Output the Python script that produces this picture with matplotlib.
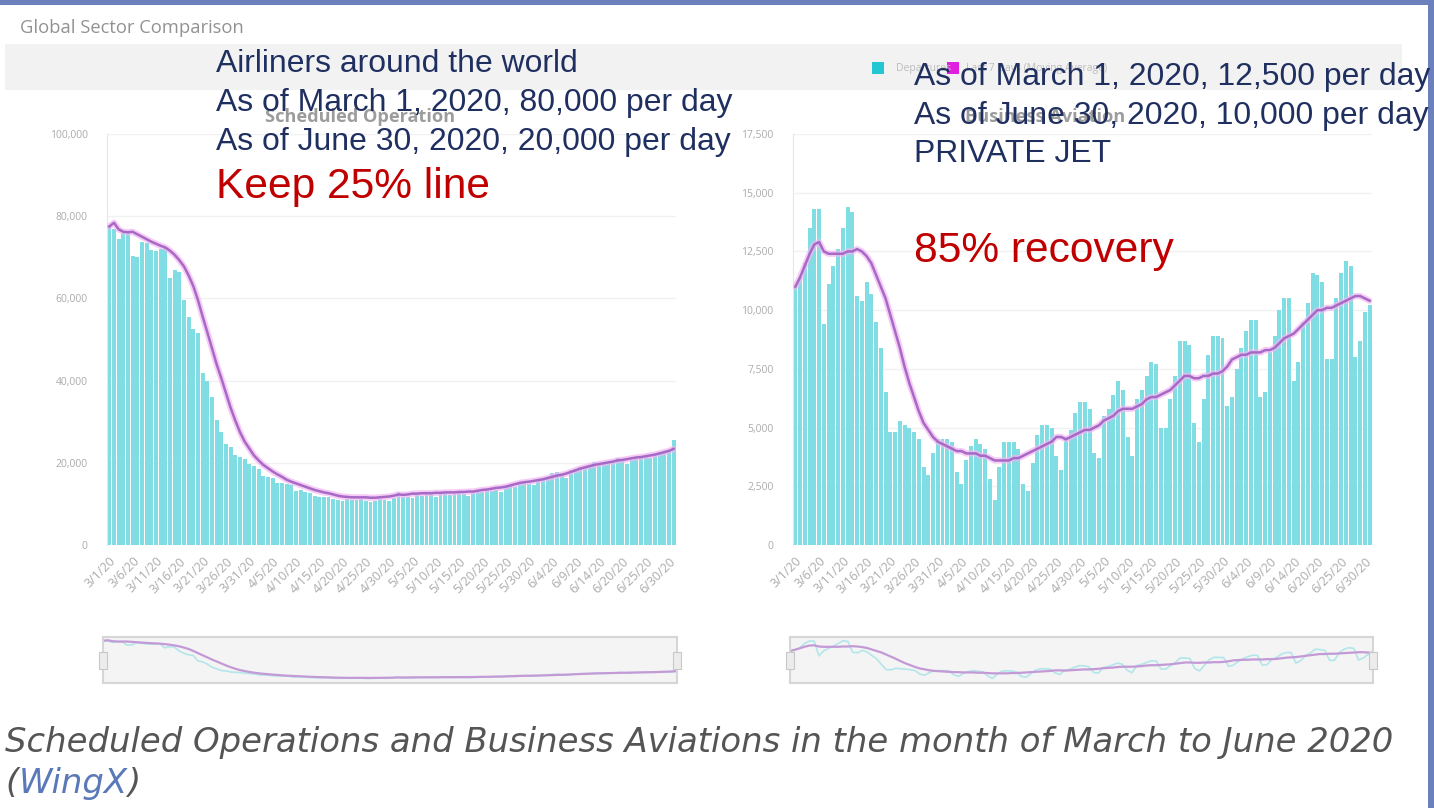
import matplotlib
matplotlib.use("Agg")
import matplotlib.pyplot as plt
from matplotlib.patches import Rectangle
import numpy as np

# values in thousands of flights per day, 3/1/20 .. 6/30/20
sched_k = [
    77.5, 77.0, 74.5, 75.8, 76.0, 70.2, 70.0, 73.8, 73.5, 71.8,
    71.5, 71.9, 72.5, 65.0, 67.0, 66.5, 59.6, 55.5, 52.5, 51.5,
    41.8, 40.0, 36.0, 30.5, 27.5, 24.5, 23.8, 22.0, 21.4, 21.0,
    19.8, 19.2, 18.5, 16.8, 16.5, 16.2, 15.2, 15.0, 14.8, 14.5,
    13.2, 13.5, 13.0, 12.6, 12.0, 11.8, 11.6, 11.8, 11.2, 11.0,
    10.8, 11.2, 11.0, 10.9, 11.3, 10.6, 10.5, 10.8, 11.2, 11.0,
    10.8, 11.4, 12.8, 11.6, 11.8, 11.4, 12.2, 12.0, 12.4, 12.3,
    11.8, 12.4, 12.6, 12.2, 12.5, 12.6, 12.4, 11.9, 12.7, 12.9,
    13.0, 13.2, 13.1, 13.5, 12.9, 14.3, 14.6, 14.0, 15.2, 15.4,
    14.8, 14.6, 15.6, 16.0, 16.6, 17.6, 17.8, 17.0, 16.4, 18.2,
    18.6, 19.0, 18.8, 19.4, 20.2, 19.5, 19.6, 20.0, 20.4, 21.2,
    20.6, 19.6, 20.8, 21.0, 21.4, 21.8, 21.2, 22.0, 22.6, 22.4,
    22.8, 25.5,
]
sched_ma_k = [
    77.5, 78.4, 76.8, 76.2, 76.1, 76.2, 75.6, 75.0, 74.4, 73.8,
    73.3, 72.8, 72.4, 71.6, 70.6, 69.3, 67.8, 65.6, 63.0, 59.6,
    55.6, 51.8, 47.9, 44.0, 40.6, 37.0, 33.4, 30.3, 27.5, 25.2,
    23.5, 21.8, 20.6, 19.5, 18.7, 17.9, 17.2, 16.6, 15.9, 15.4,
    15.0, 14.6, 14.2, 13.8, 13.4, 13.1, 12.8, 12.6, 12.3, 12.0,
    11.8, 11.7, 11.6, 11.6, 11.6, 11.6, 11.5, 11.5, 11.6, 11.7,
    11.8, 12.0, 12.3, 12.2, 12.3, 12.5, 12.5, 12.6, 12.6, 12.6,
    12.7, 12.7, 12.8, 12.8, 12.8, 12.9, 12.9, 13.0, 13.0, 13.2,
    13.4, 13.5, 13.7, 13.9, 14.0, 14.2, 14.5, 14.8, 15.1, 15.3,
    15.4, 15.6, 15.8, 16.0, 16.3, 16.6, 16.9, 17.1, 17.4, 17.8,
    18.2, 18.6, 18.9, 19.2, 19.5, 19.7, 19.9, 20.1, 20.3, 20.6,
    20.7, 20.9, 21.1, 21.3, 21.4, 21.6, 21.8, 22.0, 22.3, 22.6,
    22.9, 23.4,
]
bizav_k = [
    11.0, 11.4, 12.0, 13.5, 14.3, 14.3, 9.4, 11.1, 11.9, 12.6,
    13.5, 14.4, 14.2, 10.6, 10.4, 11.2, 10.7, 9.5, 8.4, 6.5,
    4.8, 4.8, 5.3, 5.1, 5.0, 4.8, 4.5, 3.3, 3.0, 3.9,
    4.5, 4.5, 4.5, 4.4, 3.1, 2.6, 3.6, 4.2, 4.5, 4.3,
    4.1, 2.8, 1.9, 3.3, 4.4, 4.4, 4.4, 4.1, 2.6, 2.3,
    3.5, 4.7, 5.1, 5.1, 5.0, 3.8, 3.2, 4.6, 4.9, 5.6,
    6.1, 6.1, 5.8, 3.9, 3.7, 5.5, 5.8, 6.4, 7.0, 6.6,
    4.6, 3.8, 6.2, 6.6, 7.2, 7.8, 7.7, 5.0, 5.0, 6.2,
    7.2, 8.7, 8.7, 8.5, 5.2, 4.4, 6.2, 8.1, 8.9, 8.9,
    8.8, 5.9, 6.3, 7.5, 8.4, 9.1, 9.6, 9.6, 6.3, 6.5,
    8.2, 8.9, 10.0, 10.5, 10.5, 7.0, 7.8, 9.5, 10.3, 11.6,
    11.5, 11.2, 7.9, 7.9, 10.5, 11.6, 12.1, 11.9, 8.0, 8.7,
    9.9, 10.2,
]
bizav_ma_k = [
    11.0, 11.4, 11.9, 12.4, 12.8, 12.9, 12.5, 12.4, 12.4, 12.4,
    12.4, 12.5, 12.5, 12.6, 12.5, 12.3, 12.0, 11.5, 11.0, 10.5,
    9.8, 9.1, 8.4, 7.6, 6.9, 6.3, 5.7, 5.2, 4.9, 4.6,
    4.4, 4.3, 4.2, 4.1, 4.0, 4.0, 3.9, 3.9, 3.9, 3.8,
    3.8, 3.7, 3.6, 3.6, 3.6, 3.6, 3.7, 3.7, 3.8, 3.9,
    4.0, 4.1, 4.2, 4.3, 4.4, 4.6, 4.6, 4.5, 4.6, 4.7,
    4.8, 4.9, 4.9, 5.0, 5.1, 5.3, 5.4, 5.5, 5.7, 5.8,
    5.8, 5.8, 5.9, 6.0, 6.2, 6.3, 6.3, 6.4, 6.5, 6.6,
    6.8, 7.0, 7.2, 7.2, 7.1, 7.1, 7.2, 7.2, 7.3, 7.3,
    7.4, 7.6, 7.9, 8.0, 8.1, 8.1, 8.2, 8.2, 8.2, 8.3,
    8.3, 8.4, 8.6, 8.8, 8.9, 9.0, 9.2, 9.4, 9.6, 9.8,
    10.0, 10.0, 10.1, 10.1, 10.2, 10.3, 10.4, 10.5, 10.6, 10.6,
    10.5, 10.4,
]

date_labels = [
    '3/1/20', '3/6/20', '3/11/20', '3/16/20', '3/21/20', '3/26/20', '3/31/20',
    '4/5/20', '4/10/20', '4/15/20', '4/20/20', '4/25/20', '4/30/20',
    '5/5/20', '5/10/20', '5/15/20', '5/20/20', '5/25/20', '5/30/20',
    '6/4/20', '6/9/20', '6/14/20', '6/20/20', '6/25/20', '6/30/20',
]

W, H = 1434, 808
fig = plt.figure(figsize=(W / 100, H / 100), dpi=100)
fig.patch.set_facecolor('white')


def box(x0, y0, x1, y1):
    # pixel box (top-left origin) -> figure fraction
    return [x0 / W, 1 - y1 / H, (x1 - x0) / W, (y1 - y0) / H]


def ftext(x, y, s, **kw):
    return fig.text(x / W, 1 - y / H, s, **kw)


def fit(t, width_px):
    r = fig.canvas.get_renderer()
    w = t.get_window_extent(r).width
    t.set_fontsize(t.get_fontsize() * width_px / w)


BAR = '#80dde3'
LINE = '#a66ac6'
HALO = '#f4b6f2'
GRAY = '#ababab'

# frame of the slide
fig.add_artist(Rectangle((0, 1 - 5 / H), 1, 5 / H, transform=fig.transFigure,
                         color='#6b80bd', lw=0, zorder=0))
fig.add_artist(Rectangle((1428 / W, 0), 6 / W, 1, transform=fig.transFigure,
                         color='#6b80bd', lw=0, zorder=0))
# header strip of the dashboard
fig.add_artist(Rectangle((5 / W, 1 - 90 / H), 1397 / W, 46 / H, transform=fig.transFigure,
                         color='#f2f2f2', lw=0, zorder=0))
g = ftext(20, 28, 'Global Sector Comparison', fontsize=11, color='#929292',
          family='Open Sans', va='center')
fit(g, 223)

# legend
fig.add_artist(Rectangle((872 / W, 1 - 74 / H), 12 / W, 12 / H, transform=fig.transFigure,
                         color='#22c7d1', lw=0))
ftext(896, 68, 'Departures', fontsize=7.5, color='#bdbdbd', family='Open Sans', va='center')
fig.add_artist(Rectangle((947 / W, 1 - 74 / H), 12 / W, 12 / H, transform=fig.transFigure,
                         color='#e11fe0', lw=0))
ftext(966, 68, 'Last 7 Days (Moving Average)', fontsize=7.5, color='#bdbdbd',
      family='Open Sans', va='center')

panels = [
    (sched_k, sched_ma_k, (107, 134, 676, 545), 100000, 20000,
     'Scheduled Operation', 360, (103, 637, 677, 683)),
    (bizav_k, bizav_ma_k, (793, 134, 1372, 545), 17500, 2500,
     'Business Aviation', 1045, (790, 637, 1373, 683)),
]

title_size = None
for bars_k, ma_k, pos, ymax, ystep, title, tx, navpos in panels:
    vals = np.array(bars_k) * 1000
    ma = np.array(ma_k) * 1000
    x = np.arange(len(vals))

    ax = fig.add_axes(box(*pos))
    ax.bar(x, vals, width=0.84, color=BAR, linewidth=0, zorder=2)
    ax.plot(x, ma, color=HALO, lw=4.5, alpha=0.7, zorder=3, solid_capstyle='round')
    ax.plot(x, ma, color=LINE, lw=1.8, zorder=4)
    ax.set_xlim(-0.5, len(vals) - 0.5)
    ax.set_ylim(0, ymax)
    ax.set_yticks(np.arange(0, ymax + 1, ystep))
    ax.set_yticklabels([f'{v:,.0f}' for v in np.arange(0, ymax + 1, ystep)])
    ax.set_xticks(np.arange(0, len(vals), 5))
    ax.set_xticklabels(date_labels, rotation=45, ha='right', rotation_mode='anchor')
    ax.tick_params(axis='both', length=0, colors=GRAY)
    ax.tick_params(axis='y', pad=14, labelsize=7.5)
    ax.tick_params(axis='x', pad=7, labelsize=9)
    for lab in ax.get_xticklabels() + ax.get_yticklabels():
        lab.set_family('Open Sans')
    ax.grid(axis='y', color='#f1f1f1', lw=1, zorder=0)
    ax.set_axisbelow(True)
    for s in ('top', 'right', 'bottom'):
        ax.spines[s].set_visible(False)
    ax.spines['left'].set_color('#e6e6e6')
    ax.set_facecolor('none')

    # chart title (same size for both, sized on the first one)
    tt = ftext(tx, 117, title, fontsize=10.5, color='#9c9c9c', weight='bold',
               family='Open Sans', ha='center', va='center')
    if title_size is None:
        fit(tt, 190)
        title_size = tt.get_fontsize()
    else:
        tt.set_fontsize(title_size)

    # navigator strip
    nav = fig.add_axes(box(*navpos))
    nav.set_facecolor('#f4f4f4')
    nav.plot(x, vals, color='#b3e6ea', lw=1.2)
    nav.plot(x, ma, color='#c39ad6', lw=1.6)
    lo, hi = vals.min(), vals.max()
    span = hi - lo
    nav.set_ylim(lo - 0.12 * span, hi + 0.1 * span)
    nav.set_xlim(0, len(vals) - 1)
    nav.set_xticks([])
    nav.set_yticks([])
    for s in nav.spines.values():
        s.set_color('#d6d6d6')
        s.set_linewidth(1.5)
    for hx in (navpos[0], navpos[2]):
        fig.add_artist(Rectangle(((hx - 4) / W, 1 - 669 / H), 8 / W, 17 / H,
                                 transform=fig.transFigure, facecolor='#ececec',
                                 edgecolor='#c8c8c8', lw=0.8, zorder=5))

# overlaid annotations
NAVY = '#1f2f60'
RED = '#c00000'
t = ftext(216, 111, 'As of March 1, 2020, 80,000 per day', fontsize=23, color=NAVY,
          family='Liberation Sans', va='baseline')
fit(t, 517)
fs = t.get_fontsize()
ftext(216, 72, 'Airliners around the world', fontsize=fs, color=NAVY,
      family='Liberation Sans', va='baseline')
ftext(216, 150, 'As of June 30, 2020, 20,000 per day', fontsize=fs, color=NAVY,
      family='Liberation Sans', va='baseline')
ftext(914, 85, 'As of March 1, 2020, 12,500 per day', fontsize=fs, color=NAVY,
      family='Liberation Sans', va='baseline')
ftext(914, 124, 'As of June 30, 2020, 10,000 per day', fontsize=fs, color=NAVY,
      family='Liberation Sans', va='baseline')
ftext(914, 162, 'PRIVATE JET', fontsize=fs, color=NAVY,
      family='Liberation Sans', va='baseline')

r1 = ftext(216, 198, 'Keep 25% line', fontsize=30, color=RED,
           family='Liberation Sans', va='baseline')
fit(r1, 274)
ftext(914, 262, '85% recovery', fontsize=r1.get_fontsize(), color=RED,
      family='Liberation Sans', va='baseline')

# caption
cap = ftext(5, 752, 'Scheduled Operations and Business Aviations in the month of March to June 2020',
            fontsize=20, color='#555555', style='italic', family='DejaVu Sans', va='baseline')
fit(cap, 1388)
cfs = cap.get_fontsize()
rend = fig.canvas.get_renderer()
p1 = ftext(5, 793, '(', fontsize=cfs, color='#555555', style='italic',
           family='DejaVu Sans', va='baseline')
x_next = 5 + p1.get_window_extent(rend).width
p2 = ftext(x_next, 793, 'WingX', fontsize=cfs, color='#5a79b8', style='italic',
           family='DejaVu Sans', va='baseline')
x_next += p2.get_window_extent(rend).width
ftext(x_next, 793, ')', fontsize=cfs, color='#555555', style='italic',
      family='DejaVu Sans', va='baseline')

fig.savefig('out.png', dpi=100)
